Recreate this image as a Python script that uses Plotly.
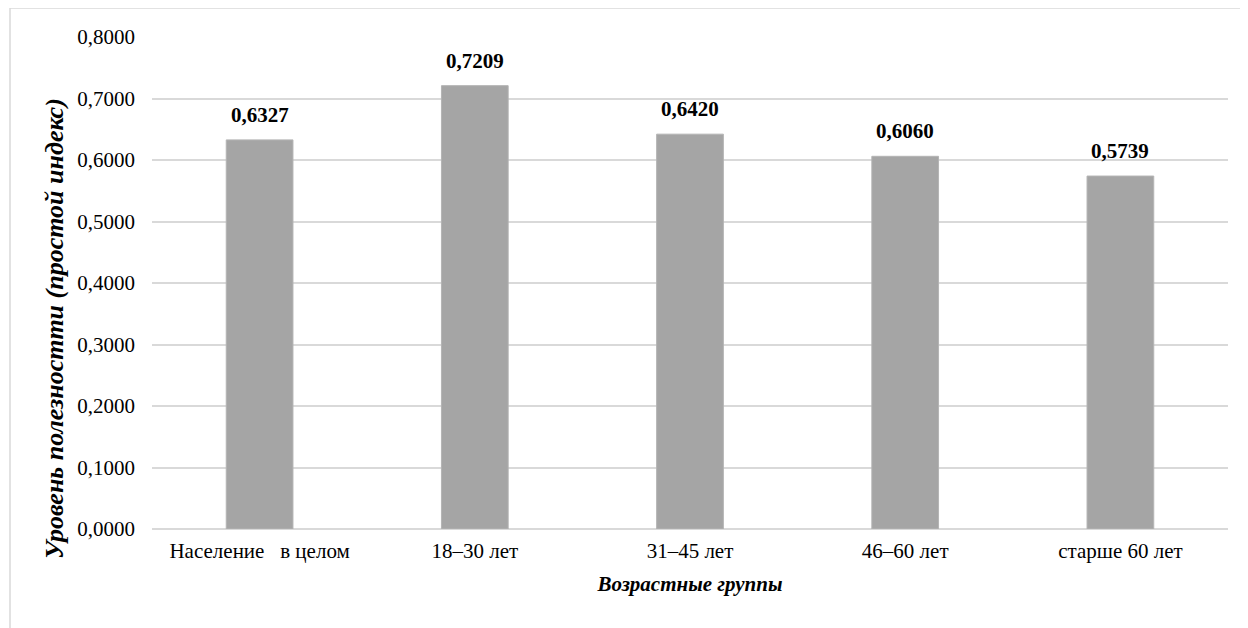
import plotly.graph_objects as go

categories = ["Население\u00a0\u00a0\u00a0в целом", "18–30 лет", "31–45 лет", "46–60 лет", "старше 60 лет"]
values = [0.6327, 0.7209, 0.6420, 0.6060, 0.5739]
y_ticks = [0.0, 0.1, 0.2, 0.3, 0.4, 0.5, 0.6, 0.7, 0.8]
labels = [f"{v:.4f}".replace(".", ",") for v in values]
x_title = "Возрастные группы"
y_title = "Уровень полезностти (простой индекс)"

# page body has an 8px margin; figure drawn at (8, 8)
OFF = 8
W, H = 1240, 620
L, R = 152 - OFF, W - (1228 - OFF)
T, B = 37 - OFF, H - (529 - OFF)
pw, ph = W - L - R, H - T - B

font_family = "Liberation Serif"

fig = go.Figure()
fig.add_trace(go.Bar(
    x=categories,
    y=values,
    marker=dict(color="#A5A5A5", line=dict(color="#B4B4B4", width=1)),
    width=0.31,
    cliponaxis=False,
))

for c, v, t in zip(categories, values, labels):
    fig.add_annotation(
        x=c, y=v, text=f"<b>{t}</b>", showarrow=False,
        yanchor="bottom", yshift=11,
        font=dict(family=font_family, size=21, color="#000000"),
    )

def px_x(p):
    return (p - OFF - L) / pw

def px_y(p):
    return 1 - (p - OFF - T) / ph

fig.add_annotation(
    xref="paper", yref="paper", x=px_x(54), y=px_y(329),
    text=f"<b><i>{y_title}</i></b>", textangle=-90, showarrow=False,
    xanchor="center", yanchor="middle",
    font=dict(family=font_family, size=26, color="#000000"),
)

fig.update_layout(
    width=W, height=H,
    margin=dict(l=L, r=R, t=T, b=B),
    paper_bgcolor="white",
    plot_bgcolor="white",
    separators=", ",
    showlegend=False,
    font=dict(family=font_family, size=21, color="#000000"),
    xaxis=dict(
        showgrid=False,
        showline=False,
        ticks="",
        ticklabelstandoff=7,
        tickfont=dict(size=21),
        title=dict(text=f"<b><i>{x_title}</i></b>", font=dict(size=21), standoff=14),
    ),
    yaxis=dict(
        range=[0, 0.8],
        tickvals=y_ticks,
        tickformat=".4f",
        gridcolor="#D9D9D9",
        gridwidth=1.5,
        zeroline=True,
        zerolinecolor="#D9D9D9",
        zerolinewidth=1.5,
        showline=False,
        ticks="",
        ticklabelstandoff=16,
        tickfont=dict(size=21),
    ),
    shapes=[dict(
        type="rect", xref="paper", yref="paper",
        x0=px_x(10), x1=px_x(1243), y0=px_y(640), y1=px_y(8),
        line=dict(color="#D9D9D9", width=1.5), fillcolor="rgba(0,0,0,0)", layer="below",
    )],
)

fig.write_html("out.html")
